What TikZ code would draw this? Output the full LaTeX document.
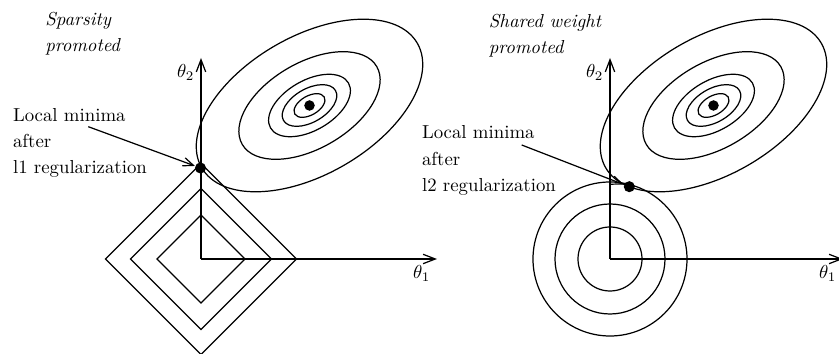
\documentclass[tikz,border=0pt]{standalone}
\usetikzlibrary{arrows.meta}
\begin{document}
\begin{tikzpicture}[x=0.532pt,y=-0.532pt,
  line/.style={line width=0.65pt},
  axis/.style={line width=0.65pt,-{Straight Barb[length=6.5pt,width=5pt]}},
  ptr/.style={line width=0.65pt,-{Straight Barb[length=5.5pt,width=4.5pt]}},
  dot/.style={circle,fill,inner sep=0pt,minimum size=5.9pt},
  cdot/.style={circle,fill,inner sep=0pt,minimum size=5.6pt},
  lbl/.style={align=left,inner sep=0pt,anchor=north west,font=\fontsize{10}{13.9}\selectfont},
  axlbl/.style={anchor=north east},
  ]
\useasboundingbox (0,0) rectangle (839,354);
% ---------------- Left panel (L1) ----------------
\coordinate (O1) at (201,259);
\coordinate (X1) at (437,259);
\coordinate (Y1) at (201,58);
\coordinate (C1) at (309.5,105.5);
\foreach \r in {44,70.5,95.5}
  \draw[line] (O1) +(\r,0) -- +(0,-\r) -- +(-\r,0) -- +(0,\r) -- cycle;
\foreach \a/\b in {124.5/69,77.7/43,45/25,30/16.7,17/9.5}
  \draw[line,rotate around={30:(C1)}] (C1) ellipse [x radius=\a, y radius=\b];
\draw[axis] (O1) -- (X1);
\draw[axis] (O1) -- (Y1);
\node[axlbl] (t11) at (X1) {$\theta_1$};
\node[axlbl] (t12) at (Y1) {$\theta_2$};
\node[cdot] (c1) at (C1) {};
\node[dot] (m1) at (200.5,168) {};
\node[lbl] (h1) at (45,12.2) {\itshape Sparsity\\\itshape promoted};
\node[lbl] (n1) at (12.7,107.9) {Local minima\\after\\l1 regularization};
\coordinate (s1) at (88.3,126.7);
\draw[ptr] (s1) -- (m1);
% ---------------- Right panel (L2) ----------------
\coordinate (O2) at (610,259);
\coordinate (X2) at (843,259);
\coordinate (Y2) at (610,58);
\coordinate (C2) at (713.5,105.5);
\foreach \r in {32,55,77}
  \draw[line] (O2) circle [radius=\r];
\foreach \a/\b in {124.5/69,77.7/43,45/25,30/16.7,17/9.5}
  \draw[line,rotate around={30:(C2)}] (C2) ellipse [x radius=\a, y radius=\b];
\draw[axis] (O2) -- (X2);
\draw[axis] (O2) -- (Y2);
\node[axlbl] (t21) at (X2) {$\theta_1$};
\node[axlbl] (t22) at (Y2) {$\theta_2$};
\node[cdot] (c2) at (C2) {};
\node[dot] (m2) at (629.3,186.7) {};
\node[lbl] (h2) at (488.5,13.7) {\itshape Shared weight\\\itshape promoted};
\node[lbl] (n2) at (421.7,125.5) {Local minima\\after\\l2 regularization};
\coordinate (s2) at (521.7,145);
\draw[ptr] (s2) -- (m2);
\end{tikzpicture}
\end{document}
